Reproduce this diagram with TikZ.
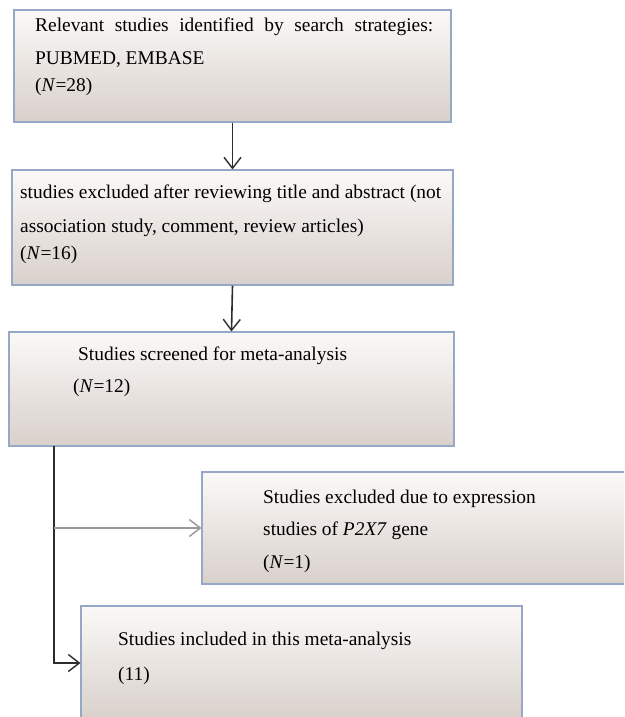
\documentclass[tikz,border=0pt]{standalone}
\usepackage{fontspec}
\setmainfont{Liberation Serif}
\usetikzlibrary{arrows.meta}
\definecolor{boxtop}{RGB}{251,249,247}
\definecolor{boxbot}{RGB}{216,208,203}
\definecolor{boxline}{RGB}{150,168,198}
\definecolor{conncol}{RGB}{45,45,45}
\tikzset{
  fbox/.style={draw=boxline, line width=1.1pt, top color=boxtop, bottom color=boxbot, inner sep=0pt},
  txt/.style={anchor=base west, inner sep=0pt, font=\fontsize{19.4}{24}\selectfont},
  conn/.style={draw=conncol, line width=1.6pt, -{Straight Barb[length=11pt,width=17pt,line width=1.4pt]}},
  connlight/.style={draw=gray!80, line width=1.3pt, -{Straight Barb[length=11pt,width=17pt,line width=1.4pt]}},
}
\begin{document}
\begin{tikzpicture}[x=1pt,y=-1pt]
\clip (0,0) rectangle (624,717);
\fill[white] (0,0) rectangle (624,717);
% boxes
\node[fbox, minimum width=437pt, minimum height=112pt] (b1) at (232.5,66) {};
\node[fbox, minimum width=441pt, minimum height=115pt] (b2) at (232.5,227.5) {};
\node[fbox, minimum width=445pt, minimum height=114pt] (b3) at (231.5,389) {};
\node[fbox, minimum width=440pt, minimum height=112pt] (b4) at (422,528) {};
\node[fbox, minimum width=441pt, minimum height=114pt] (b5) at (301.5,663) {};
% texts
\node[txt] (t1a) at (35,32) {\makebox[398pt][s]{Relevant studies identified by search strategies:}};
\node[txt] (t1b) at (35,64) {PUBMED, EMBASE};
\node[txt] (t1c) at (35,91) {(\textit{N}=28)};
\node[txt] (t2a) at (20,198) {\makebox[421pt][s]{studies excluded after reviewing title and abstract (not}};
\node[txt] (t2b) at (20,232) {association study, comment, review articles)};
\node[txt] (t2c) at (20,259) {(\textit{N}=16)};
\node[txt] (t3a) at (78,360) {Studies screened for meta-analysis};
\node[txt] (t3b) at (73,392) {(\textit{N}=12)};
\node[txt] (t4a) at (263,503) {Studies excluded due to expression};
\node[txt] (t4b) at (263,535) {studies of \textit{P2X7} gene};
\node[txt] (t4c) at (263,568) {(\textit{N}=1)};
\node[txt] (t5a) at (118,645) {Studies included in this meta-analysis};
\node[txt] (t5b) at (118,680) {(11)};
% connectors
\draw[conn] (b1.south) -- (b2.north);
\draw[conn] (b2.south) -- (b3.north);
\coordinate (tr) at (54,446);
\coordinate (br) at (54,528);
\coordinate (bend) at (54,663);
\draw[conn] (tr) -- (bend) -- (b5.west);
\draw[connlight] (br) -- (b4.west);
\end{tikzpicture}
\end{document}
